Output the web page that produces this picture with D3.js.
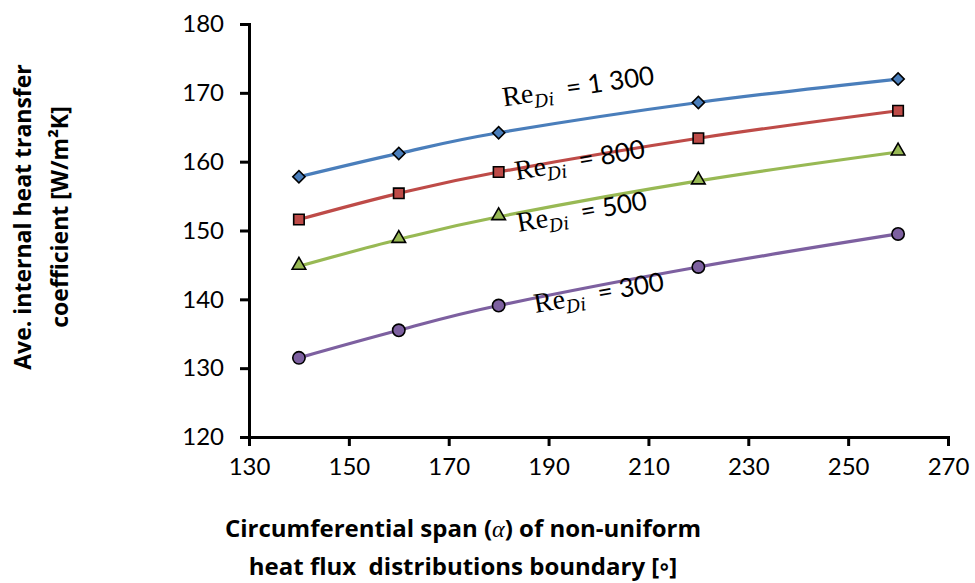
<!DOCTYPE html>
<meta charset="utf-8">
<head>
<title>Average internal heat transfer coefficient vs circumferential span</title>
<style>
  body { margin: 0; background: #fff; }
  .axis path, .axis line { fill: none; stroke: #000; stroke-width: 3px; }
  .axis text { font-family: Lato, "Open Sans", sans-serif; font-size: 24px; fill: #000; }
  .title { font-family: "Open Sans", Lato, sans-serif; font-weight: bold; }
</style>
</head>
<body>
<script src="https://cdn.jsdelivr.net/npm/d3@7"></script>
<script>

// circumferential span (deg)
var spans = [140, 160, 180, 220, 260];

// average internal heat transfer coefficient for each Re_Di
var re1300 = [157.8, 161.2, 164.2, 168.6, 172.0];
var re800  = [151.6, 155.4, 158.5, 163.4, 167.4];
var re500  = [144.8, 148.7, 152.0, 157.2, 161.4];
var re300  = [131.5, 135.5, 139.1, 144.7, 149.5];

var xTicks = [130, 150, 170, 190, 210, 230, 250, 270];
var yTicks = [120, 130, 140, 150, 160, 170, 180];

var series = [
  {name: "1 300", values: re1300, color: "#4a7ebb", marker: "diamond", lx: 181.0, ly: 168.0, rot: -8.5},
  {name: "800",   values: re800,  color: "#be4b48", marker: "square",  lx: 183.6, ly: 157.3, rot: -10},
  {name: "500",   values: re500,  color: "#98b954", marker: "triangle",lx: 184.0, ly: 149.8, rot: -10},
  {name: "300",   values: re300,  color: "#7d60a0", marker: "circle",  lx: 187.4, ly: 138.0, rot: -10}
];

var margin = {top: 24, right: 27, bottom: 146, left: 249},
    width = 975 - margin.left - margin.right,
    height = 583 - margin.top - margin.bottom;

var x = d3.scaleLinear().domain([130, 270]).range([0, width]);
var y = d3.scaleLinear().domain([120, 180]).range([height, 0]);

var svg = d3.select("body").append("svg")
    .attr("width", 975)
    .attr("height", 583)
  .append("g")
    .attr("transform", "translate(" + margin.left + "," + margin.top + ")");

// axes
svg.append("g")
    .attr("class", "x axis")
    .attr("transform", "translate(0," + height + ")")
    .call(d3.axisBottom(x).tickValues(xTicks).tickSize(9).tickSizeOuter(0).tickPadding(12))
  .selectAll("text")
    .attr("dy", "0.71em");

svg.append("g")
    .attr("class", "y axis")
    .call(d3.axisLeft(y).tickValues(yTicks).tickSize(9).tickSizeOuter(0).tickPadding(16));

svg.selectAll(".axis path").attr("stroke-linecap", "square");

// lines (smoothed like the original)
var line = d3.line()
    .x(function(d, i) { return x(spans[i]); })
    .y(function(d) { return y(d); })
    .curve(d3.curveCatmullRom.alpha(0));

svg.selectAll(".series")
    .data(series)
  .enter().append("path")
    .attr("class", "series")
    .attr("d", function(s) { return line(s.values); })
    .attr("fill", "none")
    .attr("stroke", function(s) { return s.color; })
    .attr("stroke-width", 3.2);

// markers
series.forEach(function(s) {
  svg.selectAll(".m-" + s.marker)
      .data(s.values)
    .enter().append("path")
      .attr("class", "m-" + s.marker)
      .attr("d", function() {
        if (s.marker === "diamond") return d3.symbol().type(d3.symbolSquare).size(75)();
        if (s.marker === "square") return d3.symbol().type(d3.symbolSquare).size(110)();
        if (s.marker === "triangle") return d3.symbol().type(d3.symbolTriangle).size(80)();
        return d3.symbol().type(d3.symbolCircle).size(120)();
      })
      .attr("transform", function(d, i) {
        var t = "translate(" + x(spans[i]) + "," + y(d) + ")";
        if (s.marker === "diamond") t += " rotate(45)";
        if (s.marker === "triangle") t += " translate(0,-1)";
        return t;
      })
      .attr("fill", s.color)
      .attr("stroke", "#000")
      .attr("stroke-width", 1.6);
});

// series labels
series.forEach(function(s) {
  var t = svg.append("text")
      .attr("transform", "translate(" + x(s.lx) + "," + y(s.ly) + ") rotate(" + s.rot + ")")
      .attr("fill", "#000");
  t.append("tspan")
      .attr("font-family", "'Liberation Serif', serif")
      .attr("font-size", 28)
      .text("Re");
  t.append("tspan")
      .attr("font-family", "'DejaVu Serif', 'Liberation Serif', serif")
      .style("font-style", "italic")
      .attr("font-size", 18)
      .attr("dy", 6)
      .text("Di");
  t.append("tspan")
      .attr("font-family", "Lato, 'Open Sans', sans-serif")
      .attr("font-size", 26)
      .attr("dy", -6)
      .attr("xml:space", "preserve")
      .text("  = " + s.name);
});

// axis titles
var yt = svg.append("text")
    .attr("class", "title")
    .attr("text-anchor", "middle")
    .style("font-size", "23px")
    .attr("transform", "translate(" + (31 - margin.left) + "," + (217 - margin.top) + ") rotate(-90)");
yt.append("tspan").attr("x", 0).attr("dy", 0).text("Ave. internal heat transfer");
yt.append("tspan").attr("x", 0).attr("dy", 37).text("coefficient [W/m\u00B2K]");

var xt = svg.append("text")
    .attr("class", "title")
    .attr("text-anchor", "middle")
    .style("font-size", "24px")
    .attr("transform", "translate(" + (463 - margin.left) + "," + (537 - margin.top) + ")");
xt.append("tspan").attr("x", 0).text("Circumferential span (")
  .append("tspan")
    .attr("font-family", "'Liberation Serif', serif")
    .style("font-style", "italic")
    .style("font-weight", "normal")
    .text("\u03B1");
xt.append("tspan").text(") of non-uniform");
xt.append("tspan").attr("x", 0).attr("dy", 38).attr("xml:space", "preserve").text("heat flux  distributions boundary [\u25E6]");

</script>
</body>
